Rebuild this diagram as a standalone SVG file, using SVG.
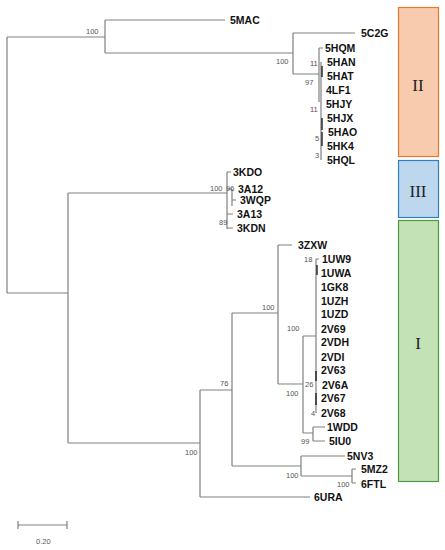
<svg xmlns="http://www.w3.org/2000/svg" width="445" height="550" viewBox="0 0 445 550">
<style>
.b{stroke:#808080;stroke-width:1.2;fill:none}
.k{stroke:#222;stroke-width:1.4;fill:none}
.t{font-family:"Liberation Sans",Arial,sans-serif;font-size:10.5px;font-weight:bold;fill:#111}
.s{font-family:"Liberation Sans",Arial,sans-serif;font-size:7.5px;fill:#555}
.p{font-family:"Liberation Sans",Arial,sans-serif;font-size:7.5px;fill:#6a3a5a}
.r{font-family:"Liberation Serif","Times New Roman",serif;font-size:17px;fill:#222;text-anchor:middle}
</style>
<rect width="445" height="550" fill="#fff"/>
<g id="connectors">
<path class="b" d="M7,37V293M7,37H105M105,20V53M105,20H225M105,53H293M293,33V74M293,33H355M293,74H319M319,48V102M319,48H323M321,62V160M7,293H68M68,193V443M68,193H227M227,172V229M227,172H231M227,189H232M232,189V206M232,200H236M227,214H233M227,228H233M68,443H200M200,390V497M200,390H232M200,497H310M232,313V466M232,313H278M278,245V384M278,245H292M278,384H303M303,336V433M303,336H316M316,259V413M316,259H319M303,433H313M313,427V441M313,427H325M313,441H325M232,466H301M301,456V476M301,456H345M301,476H352M352,469V483M352,469H356M352,483H356"/>
<path class="k" d="M322,66V77M322,118V130M322,132V146M317,265V275M316,371V381M316,393V405"/>
<path class="b" d="M18,525H67M18,521V529M67,521V529"/>
</g>
<g id="labels-bootstrap">
<text class="s" x="86" y="34">100</text>
<text class="s" x="276" y="64">100</text>
<text class="p" x="310" y="66">11</text>
<text class="s" x="305" y="85">97</text>
<text class="p" x="310" y="112">11</text>
<text class="s" x="315" y="141">5</text>
<text class="s" x="315" y="158">3</text>
<text class="s" x="210" y="191">100</text>
<text class="s" x="226" y="191">96</text>
<text class="s" x="219" y="225">89</text>
<text class="s" x="262" y="310">100</text>
<text class="s" x="304" y="262">18</text>
<text class="s" x="287" y="331">100</text>
<text class="s" x="305" y="387">26</text>
<text class="s" x="286" y="396">100</text>
<text class="s" x="311" y="416">4</text>
<text class="s" x="301" y="444">99</text>
<text class="s" x="220" y="386">76</text>
<text class="s" x="185" y="455">100</text>
<text class="s" x="286" y="478">100</text>
<text class="s" x="337" y="487">100</text>
<text class="s" x="36" y="544">0.20</text>
</g>
<g id="n-5MAC"><text class="t" x="230" y="24">5MAC</text></g>
<g id="n-5C2G"><text class="t" x="361" y="37">5C2G</text></g>
<g id="n-5HQM"><text class="t" x="325" y="52">5HQM</text></g>
<g id="n-5HAN"><text class="t" x="327" y="66">5HAN</text></g>
<g id="n-5HAT"><text class="t" x="327" y="80">5HAT</text></g>
<g id="n-4LF1"><text class="t" x="326" y="94">4LF1</text></g>
<g id="n-5HJY"><text class="t" x="326" y="108">5HJY</text></g>
<g id="n-5HJX"><text class="t" x="327" y="122">5HJX</text></g>
<g id="n-5HAO"><text class="t" x="328" y="136">5HAO</text></g>
<g id="n-5HK4"><text class="t" x="327" y="150">5HK4</text></g>
<g id="n-5HQL"><text class="t" x="327" y="164">5HQL</text></g>
<g id="n-3KDO"><text class="t" x="233" y="176">3KDO</text></g>
<g id="n-3A12"><text class="t" x="238" y="193">3A12</text></g>
<g id="n-3WQP"><text class="t" x="240" y="204">3WQP</text></g>
<g id="n-3A13"><text class="t" x="237" y="218">3A13</text></g>
<g id="n-3KDN"><text class="t" x="237" y="232">3KDN</text></g>
<g id="n-3ZXW"><text class="t" x="298" y="249">3ZXW</text></g>
<g id="n-1UW9"><text class="t" x="322" y="263">1UW9</text></g>
<g id="n-1UWA"><text class="t" x="321" y="277">1UWA</text></g>
<g id="n-1GK8"><text class="t" x="321" y="291">1GK8</text></g>
<g id="n-1UZH"><text class="t" x="321" y="305">1UZH</text></g>
<g id="n-1UZD"><text class="t" x="321" y="318">1UZD</text></g>
<g id="n-2V69"><text class="t" x="321" y="333">2V69</text></g>
<g id="n-2VDH"><text class="t" x="321" y="346">2VDH</text></g>
<g id="n-2VDI"><text class="t" x="321" y="361">2VDI</text></g>
<g id="n-2V63"><text class="t" x="321" y="374">2V63</text></g>
<g id="n-2V6A"><text class="t" x="322" y="389">2V6A</text></g>
<g id="n-2V67"><text class="t" x="321" y="402">2V67</text></g>
<g id="n-2V68"><text class="t" x="321" y="417">2V68</text></g>
<g id="n-1WDD"><text class="t" x="327" y="431">1WDD</text></g>
<g id="n-5IU0"><text class="t" x="329" y="445">5IU0</text></g>
<g id="n-5NV3"><text class="t" x="347" y="460">5NV3</text></g>
<g id="n-5MZ2"><text class="t" x="361" y="473">5MZ2</text></g>
<g id="n-6FTL"><text class="t" x="361" y="488">6FTL</text></g>
<g id="n-6URA"><text class="t" x="314" y="501">6URA</text></g>
<g id="group-II"><rect x="398.5" y="7.5" width="40" height="149" fill="#F9CBAE" stroke="#E8772E" stroke-width="1.2"/><text class="r" x="418" y="91">II</text></g>
<g id="group-III"><rect x="398.5" y="160.5" width="40" height="57" fill="#BCD7EE" stroke="#2E80C0" stroke-width="1.2"/><text class="r" x="418" y="197">III</text></g>
<g id="group-I"><rect x="398.5" y="220.5" width="40" height="261" fill="#C3E2B5" stroke="#4E9A40" stroke-width="1.2"/><text class="r" x="418" y="349">I</text></g>
</svg>
